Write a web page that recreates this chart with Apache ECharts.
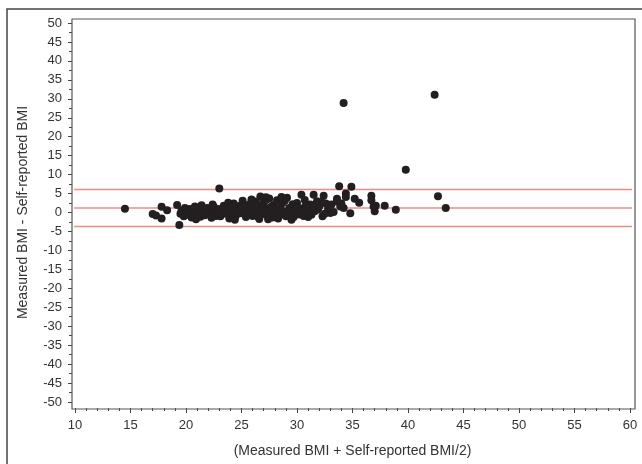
<!DOCTYPE html>
<html>
<head>
<meta charset="utf-8">
<script src="https://cdn.jsdelivr.net/npm/echarts@6/dist/echarts.min.js"></script>
<style>
  html, body { margin: 0; padding: 0; background: #fff; }
  #chart { width: 642px; height: 464px; }
</style>
</head>
<body>
<div id="chart"></div>
<script>
// mean of measured and self-reported BMI
const meanBmi = [
  14.5, 17.0, 17.3, 17.8, 18.3, 17.8, 19.2, 19.4, 19.5, 19.9, 19.8, 19.6,
  20.1, 20.3, 20.5, 20.6, 20.8, 21.0, 21.1, 21.3, 21.4, 21.6, 21.7, 21.9,
  22.0, 22.2, 22.3, 22.5, 22.6, 22.8, 22.9, 23.0, 23.1, 23.3, 23.4, 23.6,
  23.7, 23.9, 24.0, 24.2, 24.3, 24.5, 24.6, 24.8, 24.9, 25.1, 25.2, 25.4,
  25.5, 25.7, 25.8, 26.0, 26.1, 26.3, 26.4, 26.6, 26.7, 26.9, 27.0, 27.2,
  27.3, 27.5, 27.6, 27.8, 27.9, 28.1, 28.2, 28.4, 28.5, 28.7, 28.8, 29.0,
  29.1, 29.3, 29.4, 29.6, 29.7, 29.9, 30.0, 30.2, 30.4, 30.5, 30.7, 30.9,
  31.0, 31.2, 31.5, 31.6, 31.8, 32.0, 32.3, 32.4, 32.6, 32.8, 33.0, 33.3,
  33.6, 33.6, 33.8, 33.9, 34.2, 34.2, 34.4, 34.4, 34.8, 34.9, 35.6, 36.7,
  36.7, 36.9, 37.0, 37.1, 37.9, 38.9, 39.8, 42.4, 42.7, 43.4,
  21.2, 22.1, 22.7, 23.5, 24.1, 24.7, 25.0, 25.6, 26.2, 26.8, 27.1, 27.7,
  28.0, 28.6, 29.2, 29.8, 30.3, 30.8, 31.3, 31.9, 32.2, 23.8, 25.3, 26.5,
  27.4, 28.3, 29.5, 24.4, 22.4, 20.9, 26.0, 28.9, 30.6, 31.4, 32.5, 27.2,
  25.9, 33.1, 34.0, 35.2, 26.7, 27.2, 28.6
];
// measured minus self-reported BMI
const diffBmi = [
  1.0, -0.4, -0.8, 1.5, 0.6, -1.6, 2.0, -3.3, -0.3, 1.2, -1.0, 0.5,
  -0.6, 0.9, -1.3, 0.2, 1.6, -0.4, 0.7, -1.1, 1.9, 0.1, -0.7, 1.2,
  -0.2, 0.6, -1.4, 1.5, 0.0, -0.6, 0.9, 6.3, -1.0, 0.4, 1.8, -0.3,
  0.8, -1.6, 1.3, 0.1, 2.4, -0.8, 0.6, 1.7, -0.2, 3.1, 0.7, -1.2,
  1.4, 0.0, 2.3, -0.9, 1.0, 2.9, 0.3, -1.7, 1.6, -0.1, 2.6, -0.6,
  1.1, 3.7, 0.5, -1.3, 2.0, 0.8, 3.2, -0.7, 1.4, 2.5, 0.2, -1.0,
  3.9, 1.2, -0.1, 2.2, -1.2, 0.6, 2.5, -0.5, 4.7, 1.1, 3.3, 0.7,
  -1.2, 2.1, 4.7, 0.3, 3.0, 1.6, -1.0, 4.4, 2.4, 0.9, -0.1, 0.1,
  2.9, 3.6, 6.9, 1.6, 28.9, 1.2, 5.0, 4.1, -0.2, 6.8, 2.6, 4.4,
  3.2, 1.6, 0.3, 1.8, 1.8, 0.7, 11.3, 31.1, 4.3, 1.2,
  0.3, 1.0, -0.9, 0.0, -0.4, 1.0, 0.4, -0.5, 0.6, 0.9, 0.2, 1.6,
  -0.3, 0.5, 0.0, 1.5, 0.2, 1.9, -0.6, 0.8, 2.8, 2.6, 2.0, -1.1,
  -1.8, -1.6, -1.9, -1.9, 2.1, -1.8, 1.9, 3.1, -0.9, 1.3, -0.3, 3.3,
  3.4, 2.1, 2.4, 3.6, 4.2, 4.0, 4.1
];
// mean difference and limits of agreement
const agreementLines = [6.1, 1.2, -3.7];
const xFrame = [9.73, 60.45];

const xTicks = { min: 10, max: 60, interval: 5 };
const yTicks = { min: -50, max: 50, interval: 5 };

const chartDom = document.getElementById('chart');
const myChart = echarts.init(chartDom);

const textColor = '#333';
const font = 'Liberation Sans, Arial, sans-serif';

const points = meanBmi.map((x, i) => [x, diffBmi[i]]);

const option = {
  backgroundColor: '#fff',
  animation: false,
  grid: { left: 75, right: 12, top: 23, bottom: 62 },
  graphic: [
    {
      type: 'rect',
      shape: { x: 7, y: 9, width: 700, height: 500 },
      style: { fill: 'none', stroke: '#444', lineWidth: 1.5 },
      silent: true
    },
    {
      type: 'rect',
      shape: { x: 72, y: 19, width: 563, height: 390 },
      style: { fill: 'none', stroke: '#555', lineWidth: 1.2 },
      silent: true,
      z: 10
    }
  ],
  xAxis: {
    type: 'value',
    min: xTicks.min,
    max: xTicks.max,
    interval: xTicks.interval,
    offset: 6,
    name: '(Measured BMI + Self-reported BMI/2)',
    nameLocation: 'middle',
    nameGap: 36,
    nameTextStyle: { color: textColor, fontSize: 14, fontFamily: font },
    axisLine: { show: false, onZero: false },
    axisTick: { show: true, length: 5, lineStyle: { color: '#444' } },
    minorTick: { show: true, splitNumber: 5, length: 3, lineStyle: { color: '#444' } },
    axisLabel: { color: textColor, fontSize: 13, fontFamily: font, margin: 11 },
    splitLine: { show: false }
  },
  yAxis: {
    type: 'value',
    min: yTicks.min,
    max: yTicks.max,
    interval: yTicks.interval,
    offset: 3,
    name: 'Measured BMI - Self-reported BMI',
    nameLocation: 'middle',
    nameGap: 42,
    nameTextStyle: { color: textColor, fontSize: 14, fontFamily: font },
    axisLine: { show: false, onZero: false },
    axisTick: { show: true, length: 4, lineStyle: { color: '#444' } },
    minorTick: { show: true, splitNumber: 2, length: 3, lineStyle: { color: '#444' } },
    axisLabel: { color: textColor, fontSize: 13, fontFamily: font, margin: 10 },
    splitLine: { show: false }
  },
  series: [
    ...agreementLines.map(v => ({
      type: 'line',
      data: xFrame.map(x => [x, v]),
      clip: false,
      showSymbol: false,
      silent: true,
      lineStyle: { color: '#f08a8a', width: 1.5 },
      z: 1
    })),
    {
      name: 'BMI difference',
      type: 'scatter',
      data: points,
      symbol: 'circle',
      symbolSize: 8,
      itemStyle: { color: '#231f20', opacity: 1 },
      z: 3
    }
  ]
};

myChart.setOption(option);
window.addEventListener('resize', () => myChart.resize());
</script>
</body>
</html>
